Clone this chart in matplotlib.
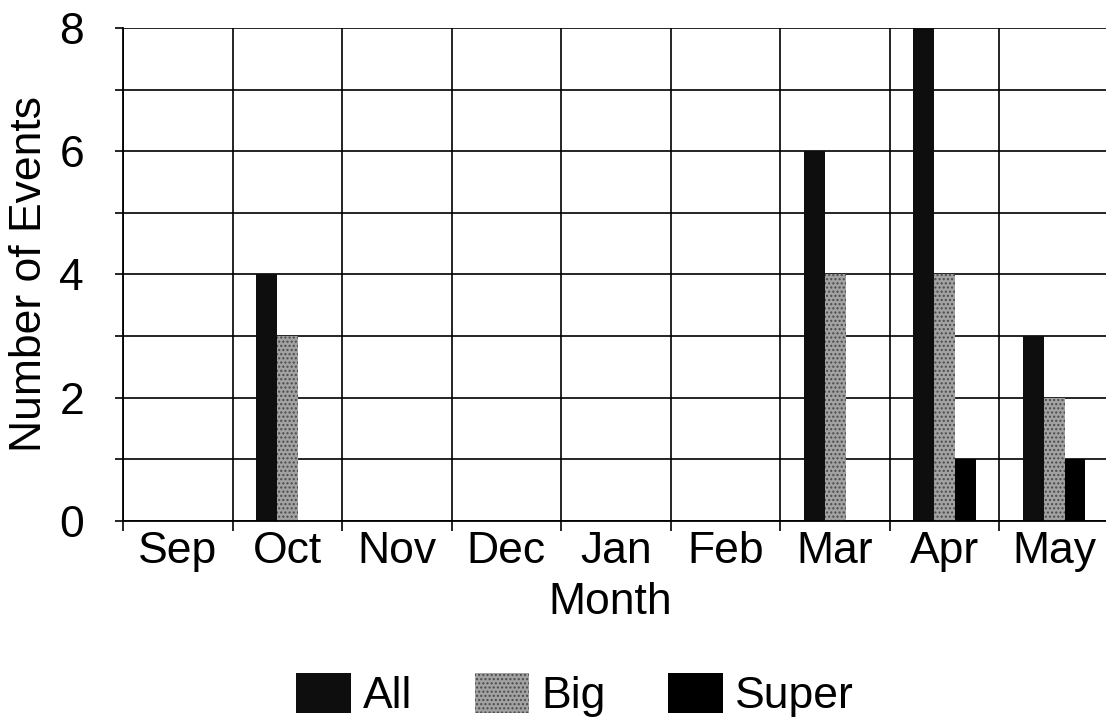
import matplotlib
matplotlib.use("Agg")
import matplotlib.pyplot as plt
import numpy as np

plt.rcParams["font.family"] = ["Liberation Sans", "DejaVu Sans"]

# data
months = ["Sep", "Oct", "Nov", "Dec", "Jan", "Feb", "Mar", "Apr", "May"]
all_events = [0, 4, 0, 0, 0, 0, 6, 8, 3]
big_events = [0, 3, 0, 0, 0, 0, 4, 4, 2]
super_events = [0, 0, 0, 0, 0, 0, 0, 1, 1]

FS = 32
fig = plt.figure(figsize=(11.06, 7.21), dpi=100)
ax = fig.add_axes([0.1112, 0.2774, 0.8915, 0.6838])

x = np.arange(len(months))
w = 0.19
ax.bar(x - w, all_events, w, color="#0e0e0e", linewidth=0, zorder=3, label="All")
ax.bar(x, big_events, w, color="#a2a2a2", edgecolor="#4a4a4a", hatch="....",
       linewidth=0, zorder=3, label="Big")
ax.bar(x + w, super_events, w, color="#000000", linewidth=0, zorder=3, label="Super")

ax.set_xlim(-0.5, len(months) - 0.5)
ax.set_ylim(0, 8)

# month labels at centres, tick marks at category boundaries
ax.set_xticks(x)
ax.set_xticklabels(months, fontsize=FS)
ax.set_xticks(np.arange(-0.5, len(months), 1.0), minor=True)
ax.tick_params(axis="x", which="major", length=0, pad=7)
ax.tick_params(axis="x", which="minor", length=7, width=1.2, color="black")

ax.set_yticks([0, 2, 4, 6, 8])
ax.set_yticks([1, 3, 5, 7], minor=True)
ax.tick_params(axis="y", which="major", labelsize=FS, length=6, width=1.2, pad=22)
ax.tick_params(axis="y", which="minor", length=6, width=1.2)

ax.grid(True, axis="y", which="both", color="black", linewidth=1.2, zorder=1)
ax.grid(True, axis="x", which="minor", color="black", linewidth=1.2, zorder=1)
ax.set_axisbelow(True)

for side in ["top", "right"]:
    ax.spines[side].set_visible(False)
for side in ["left", "bottom"]:
    ax.spines[side].set_linewidth(1.3)
    ax.spines[side].set_zorder(4)

fig.text(30 / 1106, 1 - 274 / 721, "Number of Events", rotation=90,
         ha="center", va="center", fontsize=FS)
fig.text(610 / 1106, 1 - 603 / 721, "Month", ha="center", va="center", fontsize=FS)

fig.legend(loc="center", bbox_to_anchor=(575 / 1106, 1 - 695 / 721),
           bbox_transform=fig.transFigure, ncol=3, frameon=False, fontsize=FS,
           handlelength=1.23, handleheight=1.03, handletextpad=0.28,
           columnspacing=1.4, borderpad=0)

fig.savefig("out.png", dpi=100)
